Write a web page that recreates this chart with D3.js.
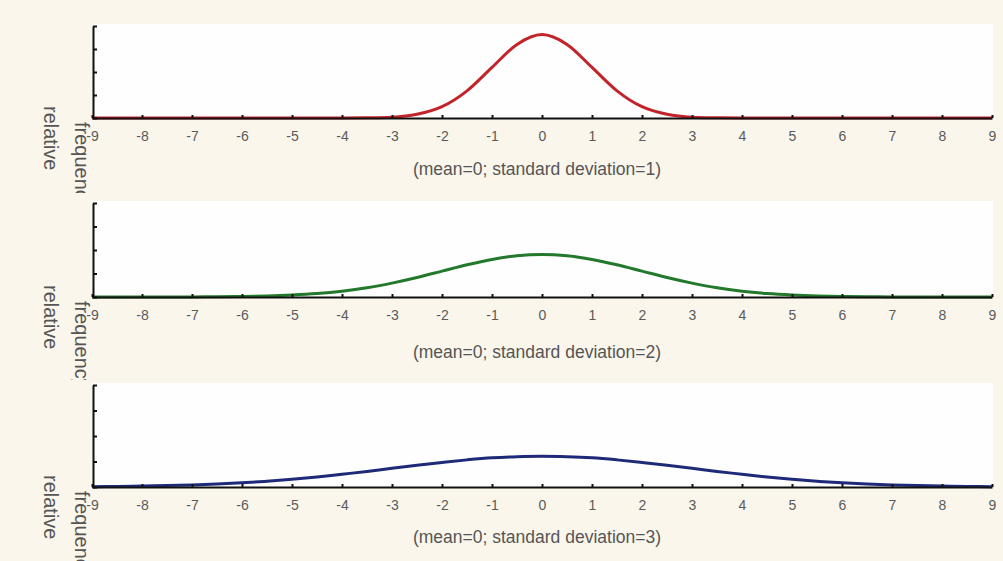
<!DOCTYPE html>
<html>
<head>
<meta charset="utf-8">
<script src="https://cdn.jsdelivr.net/npm/d3@7"></script>
<style>
  body { margin: 0; background: #faf6ec; }
  svg { display: block; }
  .tick-label { font-family: "Liberation Sans", Arial, sans-serif; font-size: 14px; fill: #5a5a5a; }
  .caption { font-family: "Liberation Sans", Arial, sans-serif; font-size: 17.5px; fill: #555; }
  .ylabel { font-family: "Liberation Sans", Arial, sans-serif; font-size: 20px; fill: #555; }
</style>
</head>
<body>
<div class="chart"></div>
<script>
// x positions the curves were read at (half steps)
const xValues = d3.range(-9, 9.01, 0.5);

// relative frequency at xValues
const sd1Values = [0, 0, 0, 0, 0, 0, 0, 0, 0, 0, 0, 0.001, 0.004, 0.018, 0.054, 0.130, 0.242, 0.352, 0.399,
  0.352, 0.242, 0.130, 0.054, 0.018, 0.004, 0.001, 0, 0, 0, 0, 0, 0, 0, 0, 0, 0, 0];
const sd2Values = [0, 0, 0, 0, 0.0004, 0.001, 0.0022, 0.0045, 0.009, 0.016, 0.027, 0.043, 0.065, 0.091, 0.121, 0.151, 0.176, 0.193, 0.199,
  0.193, 0.176, 0.151, 0.121, 0.091, 0.065, 0.043, 0.027, 0.016, 0.009, 0.0045, 0.0022, 0.001, 0.0004, 0, 0, 0, 0];
const sd3Values = [0.0015, 0.0026, 0.004, 0.006, 0.009, 0.013, 0.018, 0.025, 0.033, 0.043, 0.055, 0.067, 0.081, 0.094, 0.106, 0.117, 0.126, 0.131, 0.133,
  0.131, 0.126, 0.117, 0.106, 0.094, 0.081, 0.067, 0.055, 0.043, 0.033, 0.025, 0.018, 0.013, 0.009, 0.006, 0.004, 0.0026, 0.0015];

const xTicks = d3.range(-9, 10, 1);
const yTicks = [0, 0.11, 0.22, 0.33, 0.44];
const captions = [
  '(mean=0; standard deviation=1)',
  '(mean=0; standard deviation=2)',
  '(mean=0; standard deviation=3)',
];
const colors = ['#c3232b', '#22792c', '#1e2a78'];

const svgWidth = 1003;
const svgHeight = 561;

// layout of the three stacked panels
const panels = [
  { top: 26, bottom: 118, clipTop: 0, clipBottom: 193, captionY: 175, values: sd1Values },
  { top: 203, bottom: 297, clipTop: 193, clipBottom: 380, captionY: 358, values: sd2Values },
  { top: 385, bottom: 487, clipTop: 380, clipBottom: 561, captionY: 543, values: sd3Values },
];

const xScale = d3.scaleLinear().domain([-9, 9]).range([92, 992]);

const svg = d3.select('.chart').append('svg')
  .attr('width', svgWidth)
  .attr('height', svgHeight);

svg.append('rect')
  .attr('width', svgWidth)
  .attr('height', svgHeight)
  .attr('fill', '#faf6ec');

const defs = svg.append('defs');

panels.forEach((p, i) => {
  const yScale = d3.scaleLinear().domain([0, 0.44]).range([p.bottom, p.top]);

  const g = svg.append('g');

  // white plot area
  g.append('rect')
    .attr('x', 93)
    .attr('y', p.top - 2)
    .attr('width', 900)
    .attr('height', p.bottom - p.top + 2)
    .attr('fill', '#fefefe');

  const line = d3.line()
    .x((d, j) => xScale(xValues[j]))
    .y((d) => yScale(d))
    .curve(d3.curveMonotoneX);

  g.append('path')
    .datum(p.values)
    .attr('fill', 'none')
    .attr('stroke', colors[i])
    .attr('stroke-width', 3)
    .attr('d', line);

  // x axis: inner ticks, labels below
  const xAxis = g.append('g')
    .attr('transform', `translate(0, ${p.bottom})`)
    .call(d3.axisBottom(xScale)
      .tickValues(xTicks)
      .tickSizeInner(-3)
      .tickSizeOuter(0)
      .tickPadding(13)
      .tickFormat((d) => String(d)));
  xAxis.select('.domain').attr('stroke', '#111').attr('stroke-width', 2);
  xAxis.selectAll('.tick line').attr('stroke', '#111').attr('stroke-width', 2);
  xAxis.selectAll('.tick text')
    .attr('class', 'tick-label')
    .attr('font-family', null)
    .attr('font-size', null)
    .attr('fill', null);

  // y axis: unlabeled ticks on the inside
  const yAxis = g.append('g')
    .attr('transform', `translate(93, 0)`)
    .call(d3.axisRight(yScale)
      .tickValues(yTicks)
      .tickSize(4)
      .tickSizeOuter(0)
      .tickFormat(''));
  yAxis.select('.domain').attr('stroke', '#111').attr('stroke-width', 2);
  yAxis.selectAll('.tick line').attr('stroke', '#111').attr('stroke-width', 2);

  g.append('text')
    .attr('class', 'caption')
    .attr('x', 537)
    .attr('y', p.captionY)
    .attr('text-anchor', 'middle')
    .text(captions[i]);

  // rotated y label, clipped to the panel's strip
  defs.append('clipPath')
    .attr('id', `clip${i}`)
    .append('rect')
    .attr('x', 0)
    .attr('y', p.clipTop)
    .attr('width', 120)
    .attr('height', p.clipBottom - p.clipTop);

  const label = g.append('g').attr('clip-path', `url(#clip${i})`);
  label.append('text')
    .attr('class', 'ylabel')
    .attr('transform', `translate(44, ${p.bottom - 12}) rotate(90)`)
    .text('relative');
  label.append('text')
    .attr('class', 'ylabel')
    .attr('transform', `translate(75, ${p.bottom + 4}) rotate(90)`)
    .text('frequency');
});
</script>
</body>
</html>
